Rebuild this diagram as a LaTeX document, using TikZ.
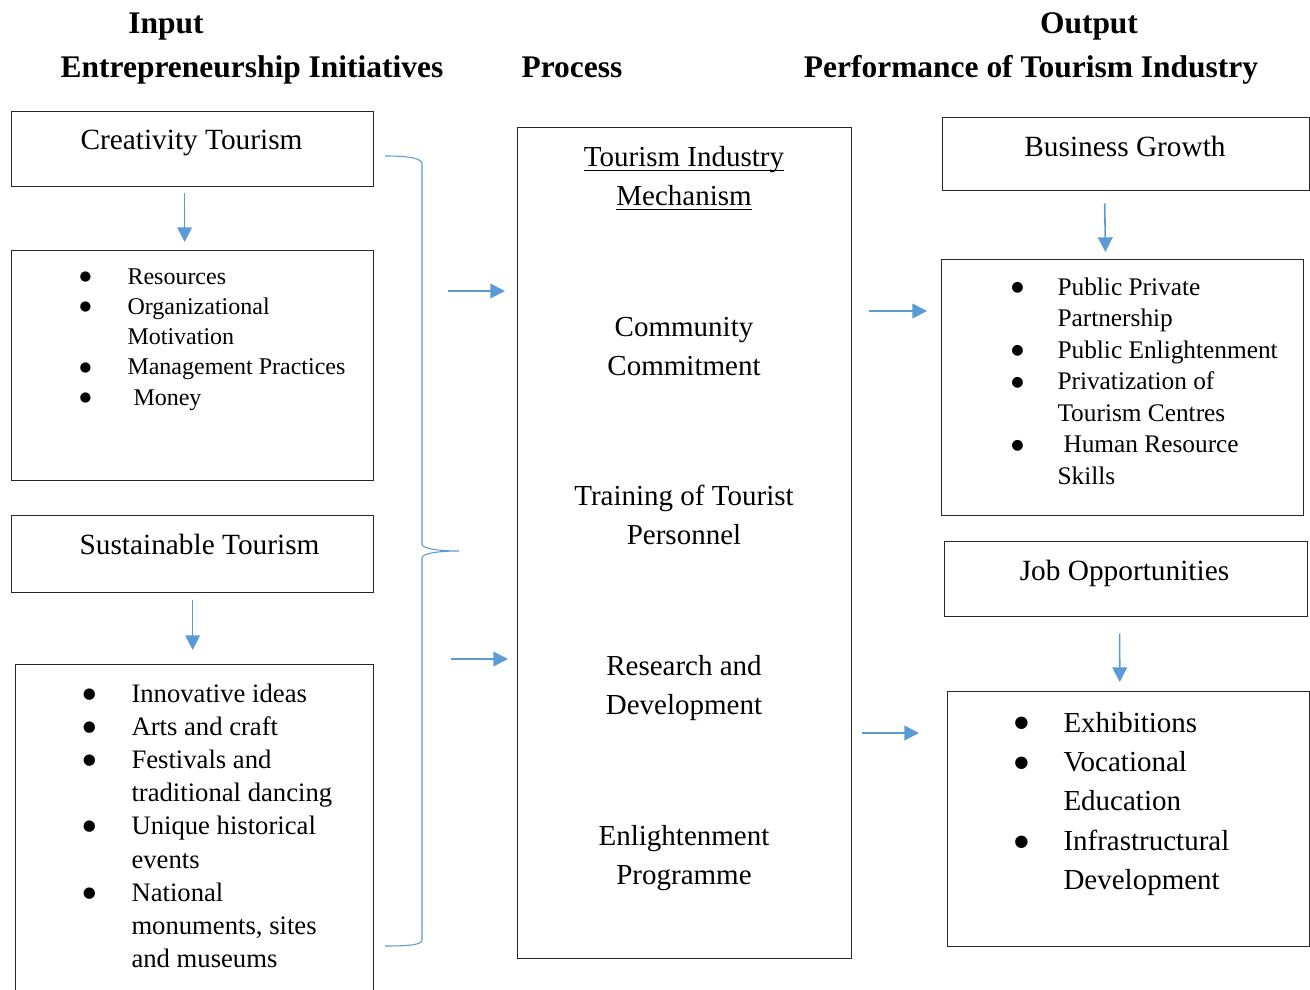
\documentclass[tikz,border=0pt]{standalone}
\usepackage{fontspec}
\setmainfont{Liberation Serif}
\newfontfamily\symfont{DejaVu Sans}
\usetikzlibrary{arrows.meta}
\definecolor{arrowblue}{RGB}{91,155,213}
\makeatletter
\newcommand{\bul}{\makebox[0pt]{\raisebox{0.15em}{\fontsize{\strip@pt\dimexpr0.56\dimexpr\f@size pt\relax\relax}{0}\selectfont\symfont ●}}}
\makeatother
\newcommand{\ulin}[1]{\setbox0\hbox{#1}\rlap{\rule[-3.6pt]{\wd0}{0.9pt}}\box0}
\tikzset{every picture/.style={line width=0.75pt}}

\begin{document}
\begin{tikzpicture}[x=0.75pt,y=0.75pt,yscale=-1,xscale=1,
  box/.style={draw={rgb,255:red,40;green,40;blue,40}, line width=1pt, inner sep=0pt, anchor=north west},
  arr/.style={draw=arrowblue, line width=1.2pt, -{Triangle[length=11pt,width=11pt]}},
  brace/.style={draw=arrowblue, line width=0.8pt},
  head/.style={anchor=base, inner sep=0pt, font=\fontsize{23.6}{28}\selectfont\bfseries},
  title/.style={anchor=base, inner sep=0pt, font=\fontsize{22}{26}\selectfont},
  mid/.style={anchor=base, inner sep=0pt, font=\fontsize{21.75}{29.25}\selectfont},
  list/.style={anchor=base west, inner sep=0pt}]
\clip (0,0) rectangle (1310,989);

%Boxes, input side
\node[box, minimum width=271.5pt, minimum height=56.25pt] (ct) at (11,111) {};
\node[box, minimum width=271.5pt, minimum height=172.5pt] (res) at (11,250) {};
\node[box, minimum width=271.5pt, minimum height=57.75pt] (st) at (11,515) {};
\node[box, minimum width=268.5pt, minimum height=252pt] (inn) at (15,664) {};
%Box, process
\node[box, minimum width=250.5pt, minimum height=623.25pt] (mech) at (517,127) {};
%Boxes, output side
\node[box, minimum width=275.25pt, minimum height=54.75pt] (bg) at (942,117) {};
\node[box, minimum width=271.5pt, minimum height=192pt] (pub) at (941,259) {};
\node[box, minimum width=272.25pt, minimum height=56.25pt] (job) at (944,541) {};
\node[box, minimum width=271.5pt, minimum height=191.25pt] (exh) at (947,691) {};

%Down arrows
\draw[arr] ([xshift=-6pt,yshift=4.5pt]ct.south) -- ([xshift=-6pt,yshift=-6pt]res.north);
\draw[arr] ([yshift=5.25pt]st.south) -- ([xshift=-1.5pt,yshift=-10.5pt]inn.north);
\draw[arr] ([xshift=-16.1pt,yshift=9pt]bg.south) -- ([xshift=-12.9pt,yshift=-5.25pt]pub.north);
\draw[arr] ([xshift=-4.9pt,yshift=12pt]job.south) -- ([xshift=-6.7pt,yshift=-6.75pt]exh.north);

%Right arrows
\coordinate (in1) at (448,291);
\coordinate (in2) at (451,659);
\coordinate (out1) at (869,311);
\coordinate (out2) at (862,733);
\draw[arr] (in1) -- ([xshift=-9pt]in1 -| mech.west);
\draw[arr] (in2) -- ([xshift=-6.75pt]in2 -| mech.west);
\draw[arr] (out1) -- ([xshift=-10.5pt]out1 -| pub.west);
\draw[arr] (out2) -- ([xshift=-21pt]out2 -| exh.west);

%Brace
\coordinate (bracetip) at (459,551);
\draw[brace] (385,156) .. controls (408,156) and (422,158) .. (422,164) -- (422,544)
  .. controls (422,549) and (440,551) .. (bracetip)
  .. controls (440,551) and (422,553) .. (422,558) -- (422,940)
  .. controls (422,945) and (408,946) .. (385,946);

% Headings
\node[head] (inp) at (166,33) {Input};
\node[head] (ent) at (252,77) {Entrepreneurship Initiatives};
\node[head] (proc) at (572,77) {Process};
\node[head] (outp) at (1089,33) {Output};
\node[head] (perf) at (1031,77) {Performance of Tourism Industry};

% Box titles
\node[title] (cttext) at (191.5,149) {Creativity Tourism};
\node[title] (sttext) at (199.5,554) {Sustainable Tourism};
\node[title] (bgtext) at (1125,156) {Business Growth};
\node[title] (jobtext) at (1124.5,580) {Job Opportunities};

% Lists
\node[list, font=\fontsize{18}{22.7}\selectfont] (reslist) at (85,284) {\begin{tabular}[t]{@{}p{31.5pt}@{}l@{}}
\bul & Resources\\
\bul & Organizational\\
 & Motivation\\
\bul & Management Practices\\
\bul & \hspace{4.5pt}Money
\end{tabular}};
\node[list, font=\fontsize{20}{24.9}\selectfont] (innlist) at (89,702) {\begin{tabular}[t]{@{}p{31.5pt}@{}l@{}}
\bul & Innovative ideas\\
\bul & Arts and craft\\
\bul & Festivals and\\
 & traditional dancing\\
\bul & Unique historical\\
 & events\\
\bul & National\\
 & monuments, sites\\
 & and museums
\end{tabular}};
\node[list, font=\fontsize{19}{23.6}\selectfont] (publist) at (1017,295.5) {\begin{tabular}[t]{@{}p{30pt}@{}l@{}}
\bul & Public Private\\
 & Partnership\\
\bul & Public Enlightenment\\
\bul & Privatization of\\
 & Tourism Centres\\
\bul & \hspace{4.5pt}Human Resource\\
 & Skills
\end{tabular}};
\node[list, font=\fontsize{21.75}{29.6}\selectfont] (exhlist) at (1021,732) {\begin{tabular}[t]{@{}p{31.5pt}@{}l@{}}
\bul & Exhibitions\\
\bul & Vocational\\
 & Education\\
\bul & Infrastructural\\
 & Development
\end{tabular}};

% Process texts
\node[mid] (mechtext) at (684,166) {\begin{tabular}[t]{@{}c@{}}\ulin{Tourism Industry}\\ \ulin{Mechanism}\end{tabular}};
\node[mid] (comm) at (684,336) {\begin{tabular}[t]{@{}c@{}}Community\\ Commitment\end{tabular}};
\node[mid] (train) at (684,505) {\begin{tabular}[t]{@{}c@{}}Training of Tourist\\ Personnel\end{tabular}};
\node[mid] (rnd) at (684,675) {\begin{tabular}[t]{@{}c@{}}Research and\\ Development\end{tabular}};
\node[mid] (enl) at (684,845) {\begin{tabular}[t]{@{}c@{}}Enlightenment\\ Programme\end{tabular}};

\end{tikzpicture}
\end{document}
